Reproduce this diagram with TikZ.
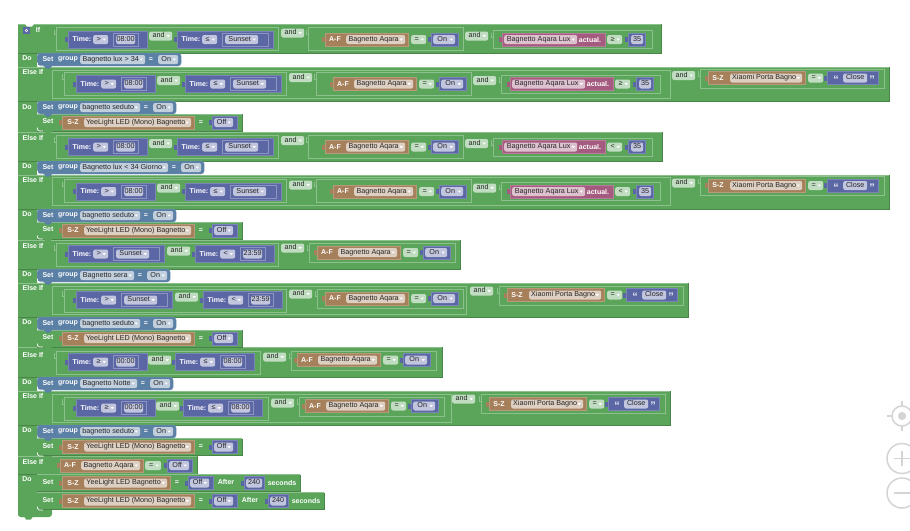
\documentclass[tikz,border=0pt]{standalone}
\usepackage{fontspec}
\setmainfont{Liberation Sans}
\definecolor{blockgreen}{HTML}{5BA55B}
\definecolor{greenlight}{HTML}{8CC08C}
\definecolor{greendark}{HTML}{498449}
\definecolor{timeblue}{HTML}{5B67A5}
\definecolor{afbrown}{HTML}{A5805B}
\definecolor{luxpink}{HTML}{A55B80}
\definecolor{setsteel}{HTML}{5B80A5}
\definecolor{zoomgray}{HTML}{D4D4D4}
\tikzset{
  lbl/.style={text=white,inner sep=0pt,font=\fontsize{7}{8}\selectfont\bfseries},
  quotelbl/.style={text=white!85!timeblue,inner sep=0pt,yshift=-2pt,font=\fontsize{11}{12}\selectfont\bfseries},
  blockbox/.style={anchor=west,inner sep=0pt,draw=#1!80!white,line width=.3pt,fill=#1},
  fieldbox/.style={anchor=west,inner sep=0pt,minimum height=9pt,text height=5.2pt,text depth=1.4pt,rounded corners=2pt,fill=#1!38!white,text=black!85,font=\fontsize{7.2}{8}\selectfont},
  outline/.style={draw=greenlight,line width=.5pt}
}
\newcommand{\rowbar}[4]{
  \fill[blockgreen] (#1,#2) rectangle (#3,#4);
  \draw[greenlight,line width=.6pt] (#1,#2) -- (#3,#2);
  \draw[greendark,line width=.6pt] (#3,#2) -- (#3,#4) -- (#1,#4);
}
\newcommand{\blk}[6]{
  \fill[#1] ({#3-3},{#4-2.5}) rectangle (#3,{#4+2.5});
  \node[blockbox=#1,minimum width={(#5)*1pt},minimum height=#6pt] (#2) at (#3,#4) {};
}
\newcommand{\fld}[6]{
  \node[fieldbox=#1,minimum width={(#5)*1pt}] (#2) at (#3,#4) {#6\hspace*{4pt}};
  \fill[white] ({#3+#5-5.5},{#4-1}) -- ++(3.5,0) -- ++(-1.75,2.2) -- cycle;
}
\newcommand{\val}[6]{
  \node[fieldbox=#1,minimum width={(#5)*1pt}] (#2) at (#3,#4) {#6};
}
\newcommand{\andpill}[3]{
  \fld{blockgreen}{#1}{#2}{#3}{23}{and}
}
\newcommand{\boxln}[4]{
  \draw[outline] (#1,#2) rectangle (#3,#4);
  \draw[outline] ({#1-2},{#2+2}) -- ++(0,5) -- ++(2,0);
}
\newcommand{\timeval}[5]{
  \blk{timeblue}{#1}{#2}{#3}{79}{17}
  \node[lbl] (#1t) at ({#2+14},{#3-.5}) {Time:};
  \fld{timeblue}{#1o}{#2+25}{#3}{15}{#4}
  \draw[timeblue!70!white,line width=.5pt] ({#2+45},{#3-6.5}) rectangle ({#2+70},{#3+6.5});
  \val{timeblue}{#1v}{#2+48}{#3}{19}{#5}
}
\newcommand{\timesun}[5]{
  \blk{timeblue}{#1}{#2}{#3}{#4}{17}
  \node[lbl] (#1t) at ({#2+14},{#3-.5}) {Time:};
  \fld{timeblue}{#1o}{#2+25}{#3}{15}{#5}
  \draw[timeblue!70!white,line width=.5pt] ({#2+45},{#3-6.5}) rectangle ({#2+#4-5},{#3+6.5});
  \fld{timeblue}{#1v}{#2+48}{#3}{33}{Sunset}
}
\newcommand{\afblk}[3]{
  \blk{afbrown}{#1}{#2}{#3}{83}{13}
  \node[lbl] (#1l) at ({#2+10},#3) {A-F};
  \fld{afbrown}{#1f}{#2+21}{#3}{59}{Bagnetto Aqara}
  \fld{blockgreen}{#1e}{#2+86}{#3}{15}{=}
  \blk{timeblue}{#1b}{#2+106}{#3}{27}{13}
  \fld{timeblue}{#1v}{#2+108}{#3}{22}{On}
}
\newcommand{\luxblk}[4]{
  \blk{luxpink}{#1}{#2}{#3}{103}{13}
  \fld{luxpink}{#1f}{#2+2}{#3}{73}{Bagnetto Aqara Lux}
  \node[lbl] (#1l) at ({#2+88},#3) {actual.};
  \fld{blockgreen}{#1e}{#2+105}{#3}{15}{#4}
  \blk{timeblue}{#1b}{#2+126}{#3}{17}{13}
  \val{timeblue}{#1v}{#2+129}{#3}{12}{35}
}
\newcommand{\closeblk}[3]{
  \blk{afbrown}{#1}{#2}{#3}{97}{13}
  \node[lbl] (#1l) at ({#2+10},#3) {S-Z};
  \fld{afbrown}{#1f}{#2+22}{#3}{72}{Xiaomi Porta Bagno}
  \fld{blockgreen}{#1e}{#2+100}{#3}{15}{=}
  \blk{timeblue}{#1b}{#2+119}{#3}{51}{13}
  \node[quotelbl] (#1q) at ({#2+128},#3) {“};
  \val{timeblue}{#1v}{#2+135}{#3}{24}{Close}
  \node[quotelbl] (#1r) at ({#2+164},#3) {”};
}
\newcommand{\setgroup}[4]{
  \node[blockbox=setsteel,rounded corners=3pt,minimum width=#3pt+79pt,minimum height=13pt] (#1) at (37,#2) {};
  \node[lbl] (#1l) at (48,{#2-.5}) {Set};
  \node[lbl] (#1g) at (68,#2) {group};
  \fld{setsteel}{#1f}{80}{#2}{#3}{#4}
  \node[lbl] (#1e) at ({80+#3+6},#2) {=};
  \fld{setsteel}{#1v}{80+#3+13}{#2}{20}{On}
}
\newcommand{\setled}[5]{
  \rowbar{37}{#2-8.5}{62+#3+48+#5}{#2+8.5}
  \node[lbl] (#1l) at (48,{#2-1}) {Set};
  \blk{afbrown}{#1a}{62}{#2}{#3}{13}
  \node[lbl] (#1s) at (73,#2) {S-Z};
  \fld{afbrown}{#1f}{84}{#2}{#3-3-22}{#4}
  \node[lbl] (#1e) at ({62+#3+7},#2) {=};
  \blk{timeblue}{#1b}{62+#3+18}{#2}{25}{13}
  \fld{timeblue}{#1v}{62+#3+20}{#2}{19}{Off}
}
\newcommand{\afteroff}[3]{
  \node[lbl] (#1a) at ({#2+13},{#3-1}) {After};
  \blk{timeblue}{#1b}{#2+31}{#3}{20}{13}
  \val{timeblue}{#1v}{#2+33}{#3}{16}{240}
  \node[lbl] (#1u) at ({#2+69},{#3-.5}) {seconds};
}
\newcommand{\settab}[2]{
  \fill[#1] (44,#2) -- (46,#2+2.5) -- (50,#2+2.5) -- (52,#2) -- cycle;
  \draw[white,line width=.7pt,rounded corners=2pt] (37.5,#2-3.5) |- (43,#2);
}
\newcommand{\condrow}[2]{
  \boxln{56}{-12}{278}{11}
  \timeval{#1a}{68}{0}{>}{08:00}
  \andpill{#1b}{149}{-3.5}
  \timesun{#1c}{177}{0}{96}{≤}
  \andpill{#1d}{281}{-6.5}
  \boxln{308}{-12}{463}{11}
  \afblk{#1e}{325}{0}
  \andpill{#1f}{465}{-3.5}
  \boxln{493}{-9}{652}{9}
  \luxblk{#1g}{502}{0}{#2}
}
\newcommand{\sunrow}[1]{
  \boxln{56}{-11}{278}{12}
  \timesun{#1a}{68}{0}{96}{>}
  \andpill{#1b}{167}{-3}
  \timeval{#1c}{195}{0}{<}{23:59}
  \andpill{#1d}{281}{-6}
  \boxln{309}{-11}{455}{8}
  \afblk{#1e}{317}{-1.5}
}
\newcommand{\nightrow}[1]{
  \boxln{56}{-11}{260}{12}
  \timeval{#1a}{68}{0}{≥}{00:00}
  \andpill{#1b}{148}{-2}
  \timeval{#1c}{175}{0}{≤}{08:00}
  \andpill{#1d}{263}{-5}
  \boxln{291}{-11}{436}{8}
  \afblk{#1e}{297}{-2}
}
\begin{document}
\begin{tikzpicture}[x=1pt,y=-1pt]
  \useasboundingbox (0,0) rectangle (910,530);
  \clip (0,0) rectangle (910,530);
  \fill[white] (0,0) rectangle (910,530);

  \fill[blockgreen,rounded corners=3pt] (18,24) rectangle (37,517);
  \fill[blockgreen,rounded corners=3pt] (18,508) rectangle (52,517);
  \fill[blockgreen] (24,516) -- (26,519.5) -- (31,519.5) -- (33,516) -- cycle;

  \rowbar{18}{24}{661}{53}
  \rowbar{18}{67}{889}{101}
  \rowbar{18}{132}{662}{161}
  \rowbar{18}{175}{889}{209}
  \rowbar{18}{240}{460}{269}
  \rowbar{18}{283}{688}{317}
  \rowbar{18}{347}{442}{377}
  \rowbar{18}{391}{670}{425}
  \rowbar{18}{456}{197}{474}
  \fill[white] (25,23) -- (25,24) -- (27,26.5) -- (32,26.5) -- (34,24) -- (34,23) -- cycle;

  \node[fill=timeblue,minimum size=7pt,inner sep=0pt] (gear) at (26.5,30.5) {};
  \fill[white] (gear) circle (1.7pt);
  \fill[timeblue] (gear) circle (.7pt);
  \node[lbl] (iflabel) at (38,30) {If};
  \foreach \y [count=\i] in {72,138,180,246,288,355,396,462}
    \node[lbl] (elseif\i) at (33,\y) {Else If};
  \foreach \y [count=\i] in {58,107,166,214,274,322,382,430,479}
    \node[lbl] (do\i) at (27,\y) {Do};

  \begin{scope}[shift={(0,39.5)}]
    \condrow{ra}{≥}
  \end{scope}
  \begin{scope}[shift={(8,84)}]
    \draw[outline] (44,-14) rectangle (662,14);
    \condrow{rb}{≥}
    \andpill{rbh}{664}{-8.5}
    \boxln{692}{-15}{876}{4}
    \closeblk{rbi}{700}{-6}
  \end{scope}
  \begin{scope}[shift={(0,147)}]
    \condrow{rc}{<}
  \end{scope}
  \begin{scope}[shift={(8,191.5)}]
    \draw[outline] (44,-14) rectangle (662,14);
    \condrow{rd}{<}
    \andpill{rdh}{664}{-8.5}
    \boxln{692}{-15}{876}{4}
    \closeblk{rdi}{700}{-6}
  \end{scope}
  \begin{scope}[shift={(0,254)}]
    \sunrow{re}
  \end{scope}
  \begin{scope}[shift={(8,300)}]
    \draw[outline] (44,-14) rectangle (458,14);
    \sunrow{rf}
    \andpill{rfh}{462}{-9}
    \boxln{491}{-14}{675}{5}
    \closeblk{rfi}{499}{-5}
  \end{scope}
  \begin{scope}[shift={(0,362)}]
    \nightrow{rg}
  \end{scope}
  \begin{scope}[shift={(8,408)}]
    \draw[outline] (44,-14) rectangle (443,14);
    \nightrow{rh}
    \andpill{rhh}{444}{-9}
    \boxln{473}{-14}{657}{5}
    \closeblk{rhi}{481}{-4}
  \end{scope}

  \blk{afbrown}{rie}{60}{465.5}{83}{13}
  \node[lbl] (riel) at (70,465.5) {A-F};
  \fld{afbrown}{rief}{81}{465.5}{59}{Bagnetto Aqara}
  \fld{blockgreen}{riee}{145}{465.5}{16}{=}
  \blk{timeblue}{rieb}{167}{465.5}{25}{13}
  \fld{timeblue}{riev}{169}{465.5}{20}{Off}

  \setgroup{sa}{59.5}{65}{Bagnetto lux > 34}
  \settab{setsteel}{66}
  \setled{lb}{122.5}{132}{YeeLight LED (Mono) Bagnetto}{0}
  \setgroup{sb}{107.5}{60}{bagnetto seduto}
  \settab{blockgreen}{131}
  \fill[setsteel] (44,114) -- (46,116.5) -- (50,116.5) -- (52,114) -- cycle;
  \setgroup{sc}{167.5}{88}{Bagnetto lux < 34 Giorno}
  \settab{setsteel}{174}
  \setled{ld}{230.5}{132}{YeeLight LED (Mono) Bagnetto}{0}
  \setgroup{sd}{215.5}{60}{bagnetto seduto}
  \settab{blockgreen}{239}
  \fill[setsteel] (44,222) -- (46,224.5) -- (50,224.5) -- (52,222) -- cycle;
  \setgroup{se}{275.5}{54}{Bagnetto sera}
  \settab{setsteel}{282}
  \setled{lf}{338.5}{132}{YeeLight LED (Mono) Bagnetto}{0}
  \setgroup{sf}{323.5}{60}{bagnetto seduto}
  \settab{blockgreen}{347}
  \fill[setsteel] (44,330) -- (46,332.5) -- (50,332.5) -- (52,330) -- cycle;
  \setgroup{sg}{383.5}{57}{Bagnetto Notte}
  \settab{setsteel}{390}
  \setled{lh}{447}{132}{YeeLight LED (Mono) Bagnetto}{0}
  \setgroup{sh}{431.5}{60}{bagnetto seduto}
  \settab{blockgreen}{456}
  \fill[setsteel] (44,438) -- (46,440.5) -- (50,440.5) -- (52,438) -- cycle;

  \setled{li}{483}{108}{YeeLight LED Bagnetto}{82}
  \afteroff{lia}{213}{483}
  \setled{lj}{501}{132}{YeeLight LED (Mono) Bagnetto}{82}
  \afteroff{lja}{237}{501}
  \settab{blockgreen}{510}

  \draw[zoomgray,line width=1.5pt] (902,416) circle (10);
  \fill[zoomgray] (902,416) circle (4);
  \draw[zoomgray,line width=1.2pt] (902,401) -- (902,406) (902,426) -- (902,431) (887,416) -- (892,416);
  \draw[zoomgray,line width=1.5pt] (902,458.5) circle (15);
  \draw[zoomgray,line width=1.5pt] (894,458.5) -- (910,458.5) (902,451) -- (902,466);
  \draw[zoomgray,line width=1.5pt] (902,493) circle (15);
  \draw[zoomgray,line width=1.5pt] (894,493) -- (910,493);
\end{tikzpicture}
\end{document}
